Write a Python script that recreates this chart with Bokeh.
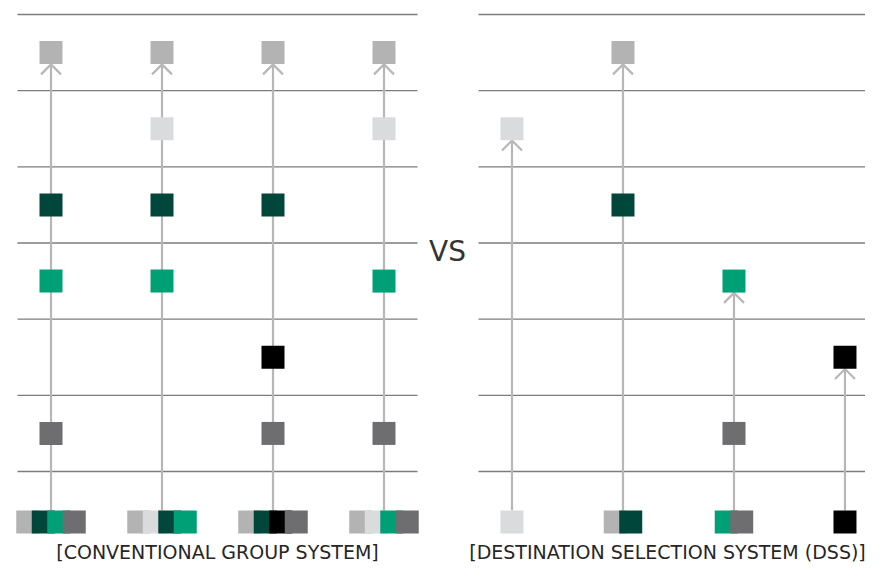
from bokeh.plotting import figure
from bokeh.models import Range1d
from bokeh.core.properties import value
from bokeh.embed import file_html
from bokeh.resources import INLINE

# ---------------- data ----------------
floors = [2, 3, 4, 5, 6, 7]
floor_colors = ["#6e6e70", "#000000", "#00a077", "#00463b", "#dadbdc", "#b3b3b3"]
conv_destinations = [[7, 5, 4, 2], [7, 6, 5, 4], [7, 5, 3, 2], [7, 6, 4, 2]]
dss_destinations = [[6], [7, 5], [4, 2], [3]]
panel_titles = ["[CONVENTIONAL GROUP SYSTEM]", "[DESTINATION SELECTION SYSTEM (DSS)]"]
vs_label = "VS"

# ---------------- layout ----------------
PX_X = 111.0          # px per elevator unit
PX_Y = 76.17          # px per floor unit
panel_offsets = [0.0, 4.153]
lobby_y = 0.837
sq_px = 23
lobby_step = 15.5 / PX_X
half_sq = 11.5 / PX_Y
tip_gap = 11.8 / PX_Y
chev_dx = 10 / PX_X
chev_dy = 10 / PX_Y
line_ext = 0.302
floor_lines = [1.5 + i for i in range(7)]
label_x = [1.5, (667 - 50.5) / PX_X]
label_y = 1.5 - (551 - 471) / PX_Y

color_of = dict(zip(floors, floor_colors))

W, H = 865, 562
p = figure(width=W, height=H, output_backend="svg", toolbar_location=None,
           x_range=Range1d((0 - 50.5) / PX_X, (W - 50.5) / PX_X),
           y_range=Range1d(1.5 - (H - 471) / PX_Y, 7.5 + 14 / PX_Y),
           min_border=0, min_border_left=0, min_border_right=0,
           min_border_top=0, min_border_bottom=0)
p.axis.visible = False
p.grid.visible = False
p.outline_line_color = None
p.background_fill_color = "white"
p.border_fill_color = "white"

# floor lines
fx0, fx1, fy = [], [], []
for off in panel_offsets:
    for fl in floor_lines:
        fx0.append(off - line_ext)
        fx1.append(off + 3 + line_ext)
        fy.append(fl)
p.segment(x0=fx0, y0=fy, x1=fx1, y1=fy, line_color="#7c7c7c", line_width=1.3)

# elevators
sx, sy, sc = [], [], []
lx, ly, lc = [], [], []
shaft_x, shaft_y0, shaft_y1 = [], [], []
chev_xs, chev_ys = [], []
for off, dests in zip(panel_offsets, [conv_destinations, dss_destinations]):
    for i, group in enumerate(dests):
        x = off + i
        for f in group:
            sx.append(x); sy.append(f); sc.append(color_of[f])
        n = len(group)
        for k, f in enumerate(sorted(group, reverse=True)):
            lx.append(x + (k - (n - 1) / 2) * lobby_step)
            ly.append(lobby_y)
            lc.append(color_of[f])
        top = max(group)
        tip = top - tip_gap
        shaft_x.append(x); shaft_y0.append(lobby_y + half_sq); shaft_y1.append(tip)
        chev_xs.append([x - chev_dx, x, x + chev_dx])
        chev_ys.append([tip - chev_dy, tip, tip - chev_dy])

p.segment(x0=shaft_x, y0=shaft_y0, x1=shaft_x, y1=shaft_y1,
          line_color="#b7b7b7", line_width=2.2)
p.multi_line(xs=chev_xs, ys=chev_ys, line_color="#b7b7b7", line_width=2.2)

p.scatter(x=sx, y=sy, marker="square", size=sq_px, fill_color=sc, line_color=None)
p.scatter(x=lx, y=ly, marker="square", size=sq_px, fill_color=lc, line_color=None)

# texts
p.text(x=label_x, y=[label_y, label_y], text=panel_titles,
       text_align="center", text_baseline="middle", text_font=value("DejaVu Sans"),
       text_font_size="19px", text_color="#262626")
p.text(x=[(447 - 50.5) / PX_X], y=[4.5 - (251 - 243) / PX_Y], text=[vs_label],
       text_align="center", text_baseline="middle", text_font=value("DejaVu Sans"),
       text_font_size="28px", text_color="#333333")

open("out.html", "w").write(file_html(p, INLINE))
